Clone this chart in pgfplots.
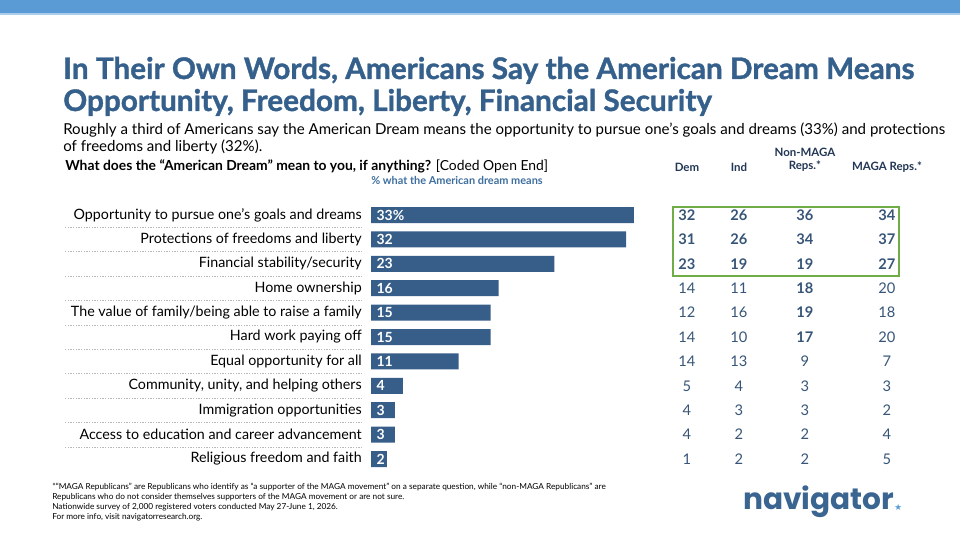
\documentclass[border=0pt]{standalone}
\usepackage{pgfplots}
\pgfplotsset{compat=1.18}
\usepackage{pgfplotstable}
\usepackage{fontspec}
\setmainfont{Lato}
\newfontfamily\titlefont{Lato}[BoldFeatures={FakeBold=1.2}]
\newfontfamily\logofont{Poppins}
\newfontfamily\symfont{DejaVu Sans}
\definecolor{band}{RGB}{91,155,213}
\definecolor{bandlight}{RGB}{170,205,235}
\definecolor{titleblue}{RGB}{53,96,140}
\definecolor{barblue}{RGB}{54,94,136}
\definecolor{numblue}{RGB}{55,85,120}
\definecolor{headnavy}{RGB}{35,55,85}
\definecolor{boxgreen}{RGB}{112,173,71}
\definecolor{smallblue}{RGB}{63,111,159}
\definecolor{logoblue}{RGB}{58,101,145}

\pgfplotstableread{
y total dem ind nonmaga maga
0 33 32 26 36 34
1 32 31 26 34 37
2 23 23 19 19 27
3 16 14 11 18 20
4 15 12 16 19 18
5 15 14 10 17 20
6 11 14 13 9 7
7 4 5 4 3 3
8 3 4 3 3 2
9 3 4 2 2 4
10 2 1 2 2 5
}\data

\begin{document}
\begin{tikzpicture}
\fill[white] (0pt,0pt) rectangle (720pt,405pt);
\begin{scope}[x=0.75pt, y=-0.75pt, shift={(0pt,405pt)}]
  \fill[band] (0,0) rectangle (960,13.5);
  \fill[bandlight] (0,13.5) rectangle (960,15);
  \node[anchor=base west, inner sep=0pt, font=\titlefont\fontsize{22.3}{26}\selectfont\bfseries, text=titleblue] at (63,79) {In Their Own Words, Americans Say the American Dream Means};
  \node[anchor=base west, inner sep=0pt, font=\titlefont\fontsize{22.3}{26}\selectfont\bfseries, text=titleblue] at (63,111) {Opportunity, Freedom, Liberty, Financial Security};
  \node[anchor=base west, inner sep=0pt, font=\fontsize{11.3}{13}\selectfont, text=black] at (63,135) {Roughly a third of Americans say the American Dream means the opportunity to pursue one’s goals and dreams (33\%) and protections};
  \node[anchor=base west, inner sep=0pt, font=\fontsize{11.3}{13}\selectfont, text=black] at (63,152) {of freedoms and liberty (32\%).};
  \node[anchor=base west, inner sep=0pt, font=\fontsize{10.4}{12}\selectfont, text=black] at (65,171) {\textbf{What does the “American Dream” mean to you, if anything?} [Coded Open End]};
  \node[anchor=base west, inner sep=0pt, font=\fontsize{8.2}{9}\selectfont\bfseries, text=smallblue] at (371,185) {\% what the American dream means};
  \foreach \yy in {227.5,251.9,276.3,300.7,325.1,349.5,373.9,398.3,422.7,447.1}
    \draw[gray!55, line width=0.8pt, dash pattern=on 0.9pt off 1.1pt] (65,\yy) -- (362,\yy);
  \node[anchor=north west, inner sep=0pt, align=left, font=\fontsize{6.2}{7.5}\selectfont, text=black] at (52,483) {*“MAGA Republicans” are Republicans who identify as “a supporter of the MAGA movement” on a separate question, while “non-MAGA Republicans” are\\Republicans who do not consider themselves supporters of the MAGA movement or are not sure.\\Nationwide survey of 2,000 registered voters conducted May 27-June 1, 2026.\\For more info, visit navigatorresearch.org.};
  \node[anchor=base west, inner sep=0pt, font=\logofont\fontsize{22.2}{24}\selectfont\bfseries, text=logoblue] at (743,509) {navigator};
  \node[anchor=base west, inner sep=0pt, font=\symfont\fontsize{6.5}{6.5}\selectfont, text=band] at (894,510) {★};
\end{scope}

\begin{axis}[
  at={(278.25pt,51.6pt)}, anchor=south west,
  scale only axis, width=394.5pt, height=201.3pt,
  xmin=0, xmax=66, ymin=-0.5, ymax=10.5, y dir=reverse,
  /pgf/number format/assume math mode=true,
  axis line style={draw=none}, xtick=\empty,
  ytick={0,...,10}, major tick length=0pt,
  yticklabels={Opportunity to pursue one's goals and dreams, Protections of freedoms and liberty, Financial stability/security, Home ownership, The value of family/being able to raise a family, Hard work paying off, Equal opportunity for all, {Community, unity, and helping others}, Immigration opportunities, Access to education and career advancement, Religious freedom and faith},
  yticklabel style={font=\fontsize{10.7}{12}\selectfont, text=black, inner sep=0pt, xshift=-6.75pt},
  clip=false,
  tabnum/.style={draw=none, mark=none, nodes near coords, point meta=explicit,
    every node near coord/.append style={anchor=center, inner sep=0pt, text=numblue, font=\fontsize{11}{12}\selectfont#1}},
]
\addplot[xbar, bar width=12pt, fill=barblue, draw=none] table[x=total, y=y]{\data};
\addplot[draw=none, mark=none, restrict y to domain=0:0, point meta=explicit,
  nodes near coords={\pgfmathprintnumber{\pgfplotspointmeta}\%},
  every node near coord/.append style={anchor=west, inner sep=0pt, xshift=4pt, text=white, font=\fontsize{10.5}{12}\selectfont\bfseries}]
  table[x expr=0, y=y, meta=total]{\data};
\addplot[draw=none, mark=none, restrict y to domain=1:10, point meta=explicit,
  nodes near coords,
  every node near coord/.append style={anchor=west, inner sep=0pt, xshift=4pt, text=white, font=\fontsize{10.5}{12}\selectfont\bfseries}]
  table[x expr=0, y=y, meta=total]{\data};
% table columns
\addplot[tabnum=\bfseries, restrict y to domain=0:2] table[x expr=39.65, y=y, meta=dem]{\data};
\addplot[tabnum=, restrict y to domain=3:10] table[x expr=39.65, y=y, meta=dem]{\data};
\addplot[tabnum=\bfseries, restrict y to domain=0:2] table[x expr=46.17, y=y, meta=ind]{\data};
\addplot[tabnum=, restrict y to domain=3:10] table[x expr=46.17, y=y, meta=ind]{\data};
\addplot[tabnum=\bfseries, restrict y to domain=0:5] table[x expr=54.45, y=y, meta=nonmaga]{\data};
\addplot[tabnum=, restrict y to domain=6:10] table[x expr=54.45, y=y, meta=nonmaga]{\data};
\addplot[tabnum=\bfseries, restrict y to domain=0:2] table[x expr=64.74, y=y, meta=maga]{\data};
\addplot[tabnum=, restrict y to domain=3:10] table[x expr=64.74, y=y, meta=maga]{\data};
\draw[boxgreen, line width=1.5pt] (axis cs:37.9,-0.33) rectangle (axis cs:66.25,2.5);
\node[font=\fontsize{8.6}{9.5}\selectfont\bfseries, text=headnavy] at (axis cs:39.65,-1.97) {Dem};
\node[font=\fontsize{8.6}{9.5}\selectfont\bfseries, text=headnavy] at (axis cs:46.17,-1.97) {Ind};
\node[font=\fontsize{8.6}{9.5}\selectfont\bfseries, text=headnavy, align=center] at (axis cs:54.45,-2.27) {Non-MAGA\\Reps.*};
\node[font=\fontsize{8.6}{9.5}\selectfont\bfseries, text=headnavy] at (axis cs:64.74,-1.97) {MAGA Reps.*};
\end{axis}
\end{tikzpicture}
\end{document}
